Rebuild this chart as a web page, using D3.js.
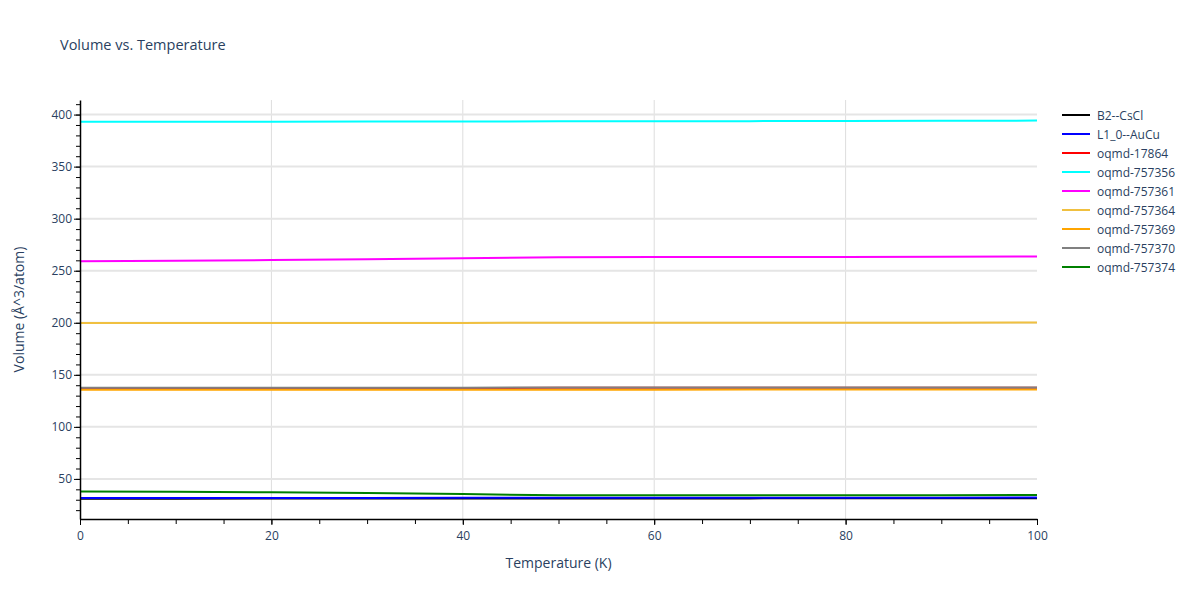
<!DOCTYPE html>
<html><head><meta charset="utf-8">
<script src="https://cdn.jsdelivr.net/npm/d3@7"></script>
<style>body{margin:0;background:#fff;font-family:"Open Sans",sans-serif;}</style>
</head><body>
<script>
const temps = [0, 10, 20, 30, 40, 50, 60, 70, 80, 90, 100];
const names = ['B2--CsCl', 'L1_0--AuCu', 'oqmd-17864', 'oqmd-757356', 'oqmd-757361', 'oqmd-757364', 'oqmd-757369', 'oqmd-757370', 'oqmd-757374'];
const colors = ['black', 'blue', 'red', 'cyan', 'magenta', '#f0c040', 'orange', 'grey', 'green'];
const b2 = [31, 31, 31.1, 31.1, 31.2, 31.2, 31.3, 31.3, 31.4, 31.4, 31.5];
const l10 = [31.6, 31.6, 31.7, 31.7, 31.8, 31.8, 31.9, 31.9, 32, 32, 32.1];
const q17864 = [137.3, 137.3, 137.4, 137.4, 137.4, 137.5, 137.5, 137.5, 137.6, 137.6, 137.6];
const q757356 = [393, 393.1, 393.2, 393.3, 393.4, 393.5, 393.6, 393.7, 393.8, 394, 394.2];
const q757361 = [259, 259.5, 260.2, 261, 262, 263, 263.1, 263.2, 263.3, 263.4, 263.6];
const q757364 = [199.8, 199.8, 199.9, 199.9, 199.9, 200, 200, 200, 200.1, 200.1, 200.2];
const q757369 = [135.6, 135.6, 135.6, 135.7, 135.7, 135.7, 135.7, 135.8, 135.8, 135.8, 135.8];
const q757370 = [137.6, 137.6, 137.7, 137.7, 137.7, 137.8, 137.8, 137.8, 137.9, 137.9, 137.9];
const q757374 = [38, 37.6, 37.1, 36.4, 35.5, 34.2, 34.2, 34.3, 34.3, 34.4, 34.5];
const series = [b2, l10, q17864, q757356, q757361, q757364, q757369, q757370, q757374];

const W = 1200, H = 600, m = {l: 80, r: 163, t: 100, b: 81};
const svg = d3.select('body').append('svg').attr('width', W).attr('height', H);
const x = d3.scaleLinear().domain([0, 100]).range([m.l, W - m.r]);
const y = d3.scaleLinear().domain([11.5, 414]).range([H - m.b, m.t]);
const tc = '#2a3f5f';

svg.append('text').attr('x', 60).attr('y', 50).attr('font-size', 14.5).attr('fill', tc).text('Volume vs. Temperature');

const grid = svg.append('g');
grid.selectAll('.gx').data(d3.range(20, 100, 20)).join('line')
  .attr('x1', d => x(d)).attr('x2', d => x(d)).attr('y1', m.t).attr('y2', H - m.b).attr('stroke', '#ddd');
grid.selectAll('.gy').data(d3.range(50, 401, 50)).join('line')
  .attr('x1', m.l).attr('x2', W - m.r).attr('y1', d => y(d)).attr('y2', d => y(d)).attr('stroke', '#e5e5e5').attr('stroke-width', 2);

const line = d3.line().x((d, i) => x(temps[i])).y(d => y(d));
series.forEach((s, k) => {
  svg.append('path').datum(s).attr('d', line).attr('fill', 'none').attr('stroke', colors[k]).attr('stroke-width', 2);
});

svg.append('g').attr('transform', `translate(0,${H - m.b})`)
  .call(d3.axisBottom(x).tickValues(d3.range(0, 101, 20)).tickSize(0).tickPadding(12));
svg.append('g').attr('transform', `translate(0,${H - m.b})`)
  .call(d3.axisBottom(x).tickValues(d3.range(0, 101, 5)).tickSize(5).tickFormat('')).select('.domain').remove();
svg.append('g').attr('transform', `translate(0,${H - m.b})`)
  .call(d3.axisBottom(x).tickValues(d3.range(0, 101, 20)).tickSize(6).tickFormat('')).select('.domain').remove();
svg.append('g').attr('transform', `translate(${m.l},0)`)
  .call(d3.axisLeft(y).tickValues(d3.range(50, 401, 50)).tickSize(0).tickPadding(8));
svg.append('g').attr('transform', `translate(${m.l},0)`)
  .call(d3.axisLeft(y).tickValues(d3.range(20, 411, 10)).tickSize(4).tickFormat('')).select('.domain').remove();
svg.append('g').attr('transform', `translate(${m.l},0)`)
  .call(d3.axisLeft(y).tickValues(d3.range(50, 401, 50)).tickSize(6).tickFormat('')).select('.domain').remove();
svg.selectAll('.tick text').attr('font-size', 12).attr('fill', tc).attr('font-family', '"Open Sans",sans-serif');
svg.selectAll('.domain').attr('stroke', 'black').attr('stroke-width', 1.5);

svg.append('text').attr('x', (m.l + W - m.r) / 2).attr('y', 568).attr('text-anchor', 'middle')
  .attr('font-size', 14).attr('fill', tc).text('Temperature (K)');
svg.append('text').attr('transform', `translate(24,${(m.t + H - m.b) / 2}) rotate(-90)`).attr('text-anchor', 'middle')
  .attr('font-size', 14).attr('fill', tc).text('Volume (Å^3/atom)');

const lg = svg.append('g').attr('transform', 'translate(1062,115)');
names.forEach((n, k) => {
  const g = lg.append('g').attr('transform', `translate(0,${k * 19})`);
  g.append('line').attr('x1', 0).attr('x2', 28).attr('stroke', colors[k]).attr('stroke-width', 2);
  g.append('text').attr('x', 35).attr('y', 4.5).attr('font-size', 12).attr('fill', tc).text(n);
});
</script>
</body></html>
